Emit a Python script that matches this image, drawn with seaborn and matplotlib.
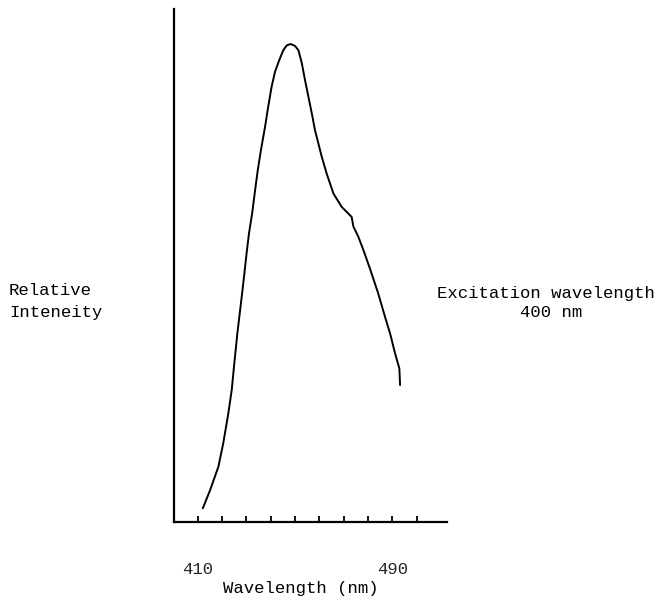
import matplotlib
matplotlib.use("Agg")
import matplotlib.pyplot as plt
import seaborn as sns
import pandas as pd

wavelength = [412.1, 415.1, 418.5, 420.5, 422.6, 424.0, 424.9, 426.3, 428.1, 429.2,
              430.1, 431.1, 432.4, 433.6, 434.7, 436.0, 437.7, 439.0, 440.4, 441.8,
              443.5, 445.2, 446.6, 448.2, 450.0, 451.4, 452.8, 454.1, 455.5, 456.9,
              458.2, 459.6, 461.0, 463.0, 465.8, 469.2, 473.3, 474.0, 476.0, 478.1,
              480.8, 484.2, 487.0, 489.1, 491.1, 492.9, 493.2]
intensity = [2.8, 6.6, 11.5, 16.4, 22.7, 27.6, 32.4, 39.4, 47.1, 52.0,
             56.2, 60.4, 64.6, 69.4, 73.6, 77.8, 82.7, 86.9, 91.1, 94.2,
             96.6, 98.7, 99.7, 100.0, 99.6, 98.7, 96.0, 92.5, 89.0, 85.5,
             82.0, 79.2, 76.4, 72.9, 68.7, 65.9, 63.8, 61.8, 59.7, 56.9,
             53.0, 47.8, 42.9, 39.4, 35.3, 32.1, 28.6]
tick_positions = [410, 420, 430, 440, 450, 460, 470, 480, 490, 500]
tick_labels = ["410", "", "", "", "", "", "", "", "490", ""]

df = pd.DataFrame({"Wavelength": wavelength, "Intensity": intensity})

sns.set_style("white")
plt.rcParams["font.family"] = ["Liberation Mono", "DejaVu Sans Mono"]

W, H = 660, 597
fig = plt.figure(figsize=(W / 100, H / 100), dpi=100)
ax = fig.add_axes([174 / W, 1 - 521.7 / H, 272.7 / W, 512.4 / H])

sns.lineplot(data=df, x="Wavelength", y="Intensity", ax=ax, color="black",
             linewidth=1.4, sort=False)

ax.set_xlim(400.26, 400.26 + 272.7 / 2.4325)
ax.set_ylim(0, 512.4 / 4.777)

for s in ["top", "right"]:
    ax.spines[s].set_visible(False)
for s in ["left", "bottom"]:
    ax.spines[s].set_color("black")
    ax.spines[s].set_linewidth(1.6)

ax.set_xticks(tick_positions)
ax.set_xticklabels(tick_labels)
ax.tick_params(axis="x", direction="in", length=4, width=1.3, color="black",
               pad=29, labelsize=12.4, bottom=True)
ax.set_yticks([])
ax.set_xlabel("")
ax.set_ylabel("")

txt = dict(fontsize=12.4, color="black", va="center")
fig.text(300.8 / W, 1 - 588.3 / H, "Wavelength (nm)", ha="center", **txt)
fig.text(9 / W, 1 - 290.7 / H, "Relative", ha="left", **txt)
fig.text(9 / W, 1 - 312.3 / H, "Inteneity", ha="left", **txt)
fig.text(546 / W, 1 - 293.3 / H, "Excitation wavelength", ha="center", **txt)
fig.text(550.8 / W, 1 - 312.3 / H, "400 nm", ha="center", **txt)

fig.savefig("out.png", dpi=100, facecolor="white")
